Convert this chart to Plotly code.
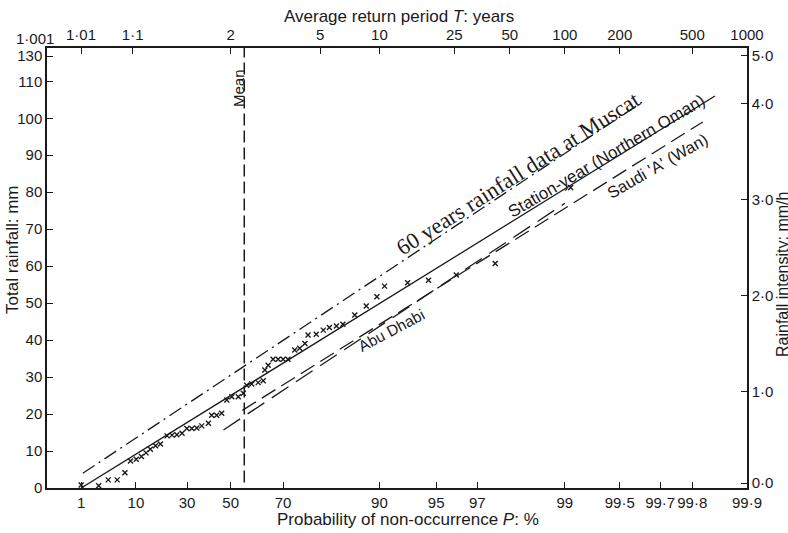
import numpy as np
import plotly.graph_objects as go

# Gumbel (extreme value type I) probability paper
def gumbel(p_percent):
    p = np.asarray(p_percent, dtype=float) / 100.0
    return -np.log(-np.log(p))

def gumbel_T(T):
    T = np.asarray(T, dtype=float)
    return -np.log(-np.log(1.0 - 1.0 / T))

# bottom axis: probability of non-occurrence, %
p_ticks = [1, 10, 30, 50, 70, 90, 95, 97, 99, 99.5, 99.7, 99.8, 99.9]
p_labels = ['1', '10', '30', '50', '70', '90', '95', '97', '99',
            '99·5', '99·7', '99·8', '99·9']

# top axis: average return period, years (1·001 sits on the corner)
t_ticks = [1.01, 1.1, 2, 5, 10, 25, 50, 100, 200, 500, 1000]
t_labels = ['1·01', '1·1', '2', '5', '10', '25', '50', '100',
            '200', '500', '1000']

# left axis (mm); the top corner is printed "130"
mm_ticks = [0, 10, 20, 30, 40, 50, 60, 70, 80, 90, 100, 110, 116.8]
mm_labels = ['0', '10', '20', '30', '40', '50', '60', '70', '80', '90',
             '100', '110', '130']
# right axis (mm/h)
int_ticks = [0.05, 1, 2, 3, 4, 4.5]
int_labels = ['0·0', '1·0', '2·0', '3·0', '4·0', '5·0']

# annual maxima at Muscat (60 years), plotting position % and rainfall mm
obs_p = [1.0, 2.5, 3.8, 5.4, 7.1, 8.5, 10.1, 11.7, 13.2, 14.7, 16.6, 18.5,
         21.2, 23.3, 25.4, 27.7, 29.9, 32.2, 34.5, 36.8, 39.9, 41.4, 43.7,
         46.0, 48.3, 50.5, 53.3, 55.4, 56.8, 58.8, 61.3, 63.2, 63.8, 65.0,
         66.7, 68.4, 70.0, 71.5, 73.5, 74.9, 76.3, 77.1, 79.1, 80.7, 82.0,
         83.4, 84.6, 86.6, 88.3, 89.7, 90.6, 92.9, 94.5, 96.1, 97.6, 99.07]
obs_mm = [0.8, 0.6, 2.2, 2.2, 4.1, 7.3, 7.8, 8.5, 9.5, 10.5, 11.4, 11.9,
          14.1, 14.3, 14.4, 14.8, 16.1, 16.1, 16.2, 16.8, 17.5, 19.7, 19.7,
          20.2, 23.8, 24.7, 24.7, 25.6, 27.8, 28.1, 28.5, 29.0, 31.9, 33.2,
          34.8, 34.8, 34.8, 34.8, 37.3, 37.8, 39.1, 41.4, 41.6, 42.7, 43.4,
          43.8, 44.3, 46.8, 49.2, 51.7, 54.6, 55.5, 56.2, 57.6, 60.7, 81.3]

# fitted lines (end points: % and mm)
muscat_p = [1.1, 99.64]
muscat_mm = [4.0, 105.0]
station_p = [1.0, 99.85]
station_mm = [0.0, 106.0]
saudi_p = [55.0, 99.825]
saudi_mm = [21.0, 99.0]
abudhabi_p = [46.8, 99.0]
abudhabi_mm = [15.7, 77.0]
mean_p = 55.8

BLACK = '#1a1a1a'
FONT = 'Liberation Sans, Arial, sans-serif'
SERIF = 'Liberation Serif, Times New Roman, serif'

# plot box in pixels
L, R, T, B = 47, 747, 48, 488

fig = go.Figure()

fig.add_trace(go.Scatter(x=gumbel(muscat_p), y=muscat_mm, mode='lines',
                         line=dict(color=BLACK, width=1.3, dash='14px,5px,2px,5px')))
fig.add_trace(go.Scatter(x=gumbel(station_p), y=station_mm, mode='lines',
                         line=dict(color=BLACK, width=1.3)))
fig.add_trace(go.Scatter(x=gumbel(saudi_p), y=saudi_mm, mode='lines',
                         line=dict(color=BLACK, width=1.3, dash='16px,7px')))
fig.add_trace(go.Scatter(x=gumbel(abudhabi_p), y=abudhabi_mm, mode='lines',
                         line=dict(color=BLACK, width=1.3, dash='20px,9px')))
fig.add_trace(go.Scatter(x=gumbel([mean_p, mean_p]), y=[1.5, 119], mode='lines',
                         line=dict(color=BLACK, width=1.5, dash='12px,5px')))
fig.add_trace(go.Scatter(x=gumbel(obs_p), y=obs_mm, mode='markers',
                         marker=dict(symbol='x-thin', size=5, color=BLACK,
                                     line=dict(width=1.4, color=BLACK))))
# carrier for the top/right axes
fig.add_trace(go.Scatter(x=gumbel_T([2]), y=[1], xaxis='x2', yaxis='y2',
                         mode='markers', marker=dict(opacity=0),
                         hoverinfo='skip'))

xr = [-1.96, float(gumbel(99.9))]
axis_common = dict(showgrid=False, zeroline=False, showline=True,
                   linecolor=BLACK, linewidth=1.5, ticks='inside',
                   ticklen=6, tickcolor=BLACK, tickwidth=1.3,
                   tickfont=dict(family=FONT, size=15, color=BLACK))

fig.update_layout(
    width=788, height=533,
    margin=dict(l=L, r=788 - R, t=T, b=533 - B),
    plot_bgcolor='white', paper_bgcolor='white',
    showlegend=False,
    xaxis=dict(range=xr, tickvals=gumbel(p_ticks), ticktext=p_labels,
               **axis_common),
    xaxis2=dict(range=xr, overlaying='x', side='top',
                tickvals=gumbel_T(t_ticks), ticktext=t_labels, **axis_common),
    yaxis=dict(range=[0, 119], tickvals=mm_ticks, ticktext=mm_labels,
               **axis_common),
    yaxis2=dict(range=[0, 119 / 26.0], overlaying='y', side='right',
                tickvals=int_ticks, ticktext=int_labels, **axis_common),
)


def label(text, x_px, y_px, angle=0, size=15, family=FONT):
    fig.add_annotation(x=(x_px - L) / (R - L), y=(B - y_px) / (B - T),
                       xref='paper', yref='paper', showarrow=False,
                       xanchor='center', yanchor='middle',
                       text=text, textangle=angle,
                       font=dict(family=family, size=size, color=BLACK))


# axis titles
label('Average return period <i>T</i>: years', 399, 17, size=17)
label('Probability of non-occurrence <i>P</i>: %', 408, 519, size=17)
label('Total rainfall: mm', 12, 250, -90, size=17)
label('Rainfall intensity: mm/h', 782, 275, -90, size=16)
label('1·001', 35, 39, size=15)

# line labels
label('60 years rainfall data at Muscat', 518, 173, -32.5, size=22.5,
      family=SERIF)
label('Station-year (Northern Oman)', 606, 156, -30.5, size=17)
label("Saudi 'A' (Wan)", 657, 166, -30, size=16.5)
label('Abu Dhabi', 391, 330, -28, size=15.5)
label('Mean', 238, 88, -90)

# the page is photographed from its corner: drop the default body margin
fig.write_html('out.html', config={'displayModeBar': False},
               post_script="document.body.style.margin='0px';")
